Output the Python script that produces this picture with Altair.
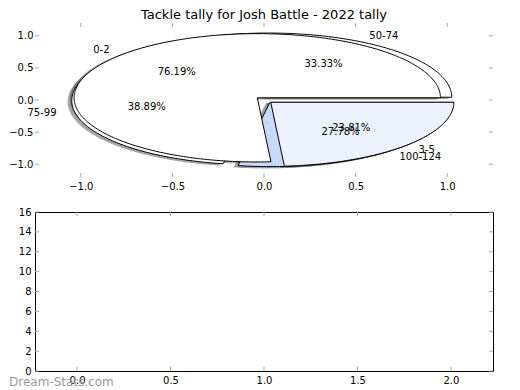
import math
import altair as alt
import pandas as pd

TITLE = "Tackle tally for Josh Battle - 2022 tally"
WATERMARK = "Dream-Stats.com"

# pie drawn on top
labels_a = ["0-2", "3-5"]
counts_a = [16, 5]
colors_a = ["#ffffff", "#ebf1fd"]
explode_a = [0.05, 0.05]

# pie drawn underneath
labels_b = ["50-74", "75-99", "100-124"]
counts_b = [6, 7, 5]
colors_b = ["#ffffff", "#ffffff", "#c6d9f8"]
explode_b = [0.05, 0.05, 0.05]

top_x_ticks = [-1.0, -0.5, 0.0, 0.5, 1.0]
top_y_ticks = [-1.0, -0.5, 0.0, 0.5, 1.0]
bottom_x_ticks = [0.0, 0.5, 1.0, 1.5, 2.0]
bottom_y_ticks = [0, 2, 4, 6, 8, 10, 12, 14, 16]

W = 458
H1 = 154
H2 = 159
TICK = 4
TICK_COLOR = "#a8a8a8"


def shade(c):
    r, g, b = int(c[1:3], 16), int(c[3:5], 16), int(c[5:7], 16)
    return "#%02x%02x%02x" % (int(r * 0.3), int(g * 0.3), int(b * 0.3))


def build_pie(labels, counts, colors, explode, pie):
    wedges, shadows, names, pcts = [], [], [], []
    total = float(sum(counts))
    start = 0.0
    for k, (lab, cnt, col, ex) in enumerate(zip(labels, counts, colors, explode)):
        span = 360.0 * cnt / total
        mid = math.radians(start + span / 2)
        cx, cy = ex * math.cos(mid), ex * math.sin(mid)
        n = max(int(span), 4)
        pts = [(cx, cy)]
        for j in range(n + 1):
            a = math.radians(start + span * j / n)
            pts.append((cx + math.cos(a), cy + math.sin(a)))
        pts.append((cx, cy))
        key = f"{pie}{k}"
        for i, (px, py) in enumerate(pts):
            wedges.append({"key": key, "i": i, "x": px, "y": py, "fill": col})
            shadows.append({"key": key, "i": i, "x": px - 0.02, "y": py - 0.02,
                            "fill": shade(col)})
        xt, yt = cx + 1.1 * math.cos(mid), cy + 1.1 * math.sin(mid)
        names.append({"x": xt, "y": yt, "text": lab, "side": "left" if xt > 0 else "right"})
        pcts.append({"x": cx + 0.6 * math.cos(mid), "y": cy + 0.6 * math.sin(mid),
                     "text": f"{100 * cnt / total:.2f}%"})
        start += span
    return wedges, shadows, names, pcts


wa, sa, na, pa = build_pie(labels_a, counts_a, colors_a, explode_a, "a")
wb, sb, nb, pb = build_pie(labels_b, counts_b, colors_b, explode_b, "b")

sx = alt.Scale(domain=[-1.25, 1.25], nice=False, zero=False)
sy = alt.Scale(domain=[-1.2, 1.2], nice=False, zero=False)

x_axis = alt.Axis(values=top_x_ticks, format=".1f", title=None, labelPadding=4)
y_axis = alt.Axis(values=top_y_ticks, format=".1f", title=None, labelPadding=2)


def X(field):
    return alt.X(field, type="quantitative", scale=sx, axis=x_axis)


def Y(field):
    return alt.Y(field, type="quantitative", scale=sy, axis=y_axis)


def wedge_layer(rows, shadow=False):
    df = pd.DataFrame(rows)
    if shadow:
        m = alt.Chart(df).mark_line(strokeWidth=1, opacity=0.5)
        stroke = alt.Stroke("fill:N", scale=None)
    else:
        m = alt.Chart(df).mark_line(strokeWidth=1, strokeJoin="miter")
        stroke = alt.value("black")
    return m.encode(
        x=X("x"), y=Y("y"),
        detail="key:N",
        order="i:Q",
        fill=alt.Fill("fill:N", scale=None),
        stroke=stroke,
    )


shadow_layer = wedge_layer(sb + sa, shadow=True)
pie_b = wedge_layer(wb)
pie_a = wedge_layer(wa)

names_df = pd.DataFrame(nb + na)
pcts_df = pd.DataFrame(pb + pa)

txt_kw = dict(fontSize=10, font="DejaVu Sans", color="black", baseline="middle")
names_left = alt.Chart(names_df).transform_filter("datum.side == 'left'").mark_text(
    align="left", **txt_kw).encode(x=X("x"), y=Y("y"), text="text:N")
names_right = alt.Chart(names_df).transform_filter("datum.side == 'right'").mark_text(
    align="right", **txt_kw).encode(x=X("x"), y=Y("y"), text="text:N")
pct_text = alt.Chart(pcts_df).mark_text(align="center", **txt_kw).encode(
    x=X("x"), y=Y("y"), text="text:N")

txdf = pd.DataFrame({"v": top_x_ticks})
tydf = pd.DataFrame({"v": top_y_ticks})
rule_kw = dict(color=TICK_COLOR, strokeWidth=1)
top_ticks = [
    alt.Chart(txdf).mark_rule(**rule_kw).encode(
        x=X("v"), y=alt.value(0), y2=alt.value(TICK)),
    alt.Chart(txdf).mark_rule(**rule_kw).encode(
        x=X("v"), y=alt.value(H1 - TICK), y2=alt.value(H1)),
    alt.Chart(tydf).mark_rule(**rule_kw).encode(
        y=Y("v"), x=alt.value(0), x2=alt.value(TICK)),
    alt.Chart(tydf).mark_rule(**rule_kw).encode(
        y=Y("v"), x=alt.value(W - TICK), x2=alt.value(W)),
]

top = alt.layer(
    shadow_layer, pie_b, pie_a, *top_ticks, names_left, names_right, pct_text
).properties(
    width=W, height=H1,
    title=alt.TitleParams(TITLE, frame="group", anchor="middle", offset=1),
)

# bottom panel
bsx = alt.Scale(domain=[-0.225, 2.225], nice=False, zero=False)
bsy = alt.Scale(domain=[0, 16], nice=False, zero=False)
bxdf = pd.DataFrame({"v": bottom_x_ticks})
bydf = pd.DataFrame({"v": bottom_y_ticks})
bx_axis = alt.Axis(values=bottom_x_ticks, format=".1f", title=None, labelPadding=4)
by_axis = alt.Axis(values=bottom_y_ticks, format="d", title=None, labelPadding=4)


def BX(field):
    return alt.X(field, type="quantitative", scale=bsx, axis=bx_axis)


def BY(field):
    return alt.Y(field, type="quantitative", scale=bsy, axis=by_axis)


bottom_layers = [
    alt.Chart(bxdf).mark_rule(**rule_kw).encode(
        x=BX("v"), y=alt.value(0), y2=alt.value(TICK)),
    alt.Chart(bxdf).mark_rule(**rule_kw).encode(
        x=BX("v"), y=alt.value(H2 - TICK), y2=alt.value(H2)),
    alt.Chart(bydf).mark_rule(**rule_kw).encode(
        y=BY("v"), x=alt.value(0), x2=alt.value(TICK)),
    alt.Chart(bydf).mark_rule(**rule_kw).encode(
        y=BY("v"), x=alt.value(W - TICK), x2=alt.value(W)),
    alt.Chart(pd.DataFrame({"text": [WATERMARK]})).mark_text(
        align="left", baseline="middle", fontSize=12, font="DejaVu Sans", color="#9a9a9a"
    ).encode(x=alt.value(-26), y=alt.value(H2 + 11), text="text:N"),
]

bottom = alt.layer(*bottom_layers).properties(
    width=W, height=H2,
    view=alt.ViewBackground(stroke="black", strokeWidth=1),
)

chart = alt.vconcat(top, bottom, spacing=15).properties(
    padding={"left": 0, "top": 0, "right": 0, "bottom": 0}
).configure_axis(
    labelFont="DejaVu Sans", labelFontSize=10, labelColor="black",
    grid=False, ticks=False, tickSize=0, domain=False,
).configure_view(strokeWidth=0).configure_title(
    font="DejaVu Sans", fontSize=13, fontWeight="normal", color="black"
)

chart.save("out.html", embed_options={"renderer": "svg", "actions": False})
